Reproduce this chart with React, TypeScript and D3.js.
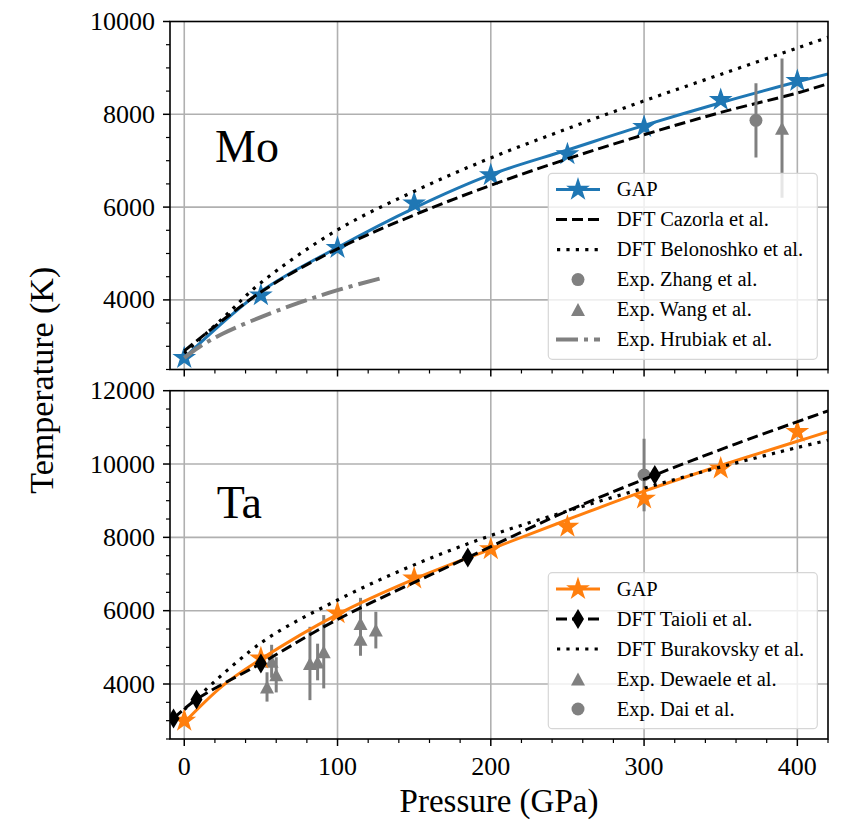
import React from "react";
import * as d3 from "d3";

// ---- values ----
const pressureTicks = [0, 100, 200, 300, 400];
const moTempTicks = [4000, 6000, 8000, 10000];
const taTempTicks = [4000, 6000, 8000, 10000, 12000];

// Mo
const moGapP = [0, 50, 100, 150, 200, 250, 300, 350, 400];
const moGapT = [2750, 4100, 5120, 6080, 6690, 7140, 7730, 8310, 8720];
const moGapFitP = [0, 50, 100, 150, 200, 250, 300, 350, 400, 420];
const moGapFitT = [2750, 4180, 5130, 5980, 6700, 7230, 7760, 8250, 8700, 8870];
const moCazorlaP = [0, 50, 100, 150, 200, 250, 300, 350, 400, 420];
const moCazorlaT = [2900, 4170, 5100, 5830, 6470, 7040, 7560, 8040, 8460, 8660];
const moBelonoshkoP = [0, 25, 50, 100, 150, 200, 250, 300, 350, 400, 420];
const moBelonoshkoT = [2850, 3600, 4370, 5510, 6340, 7060, 7690, 8290, 8860, 9430, 9660];
const moZhangP = [373];
const moZhangT = [7870];
const moZhangErr = [800];
const moWangP = [390];
const moWangT = [7700];
const moWangErr = [1500];
const moHrubiakP = [0, 10, 25, 50, 75, 100, 131];
const moHrubiakT = [2750, 2990, 3270, 3630, 3940, 4210, 4490];

// Ta
const taGapP = [0, 50, 100, 150, 200, 250, 300, 350, 400];
const taGapT = [3000, 4700, 5930, 6880, 7680, 8290, 9060, 9880, 10880];
const taGapFitP = [0, 25, 50, 100, 150, 200, 250, 300, 350, 400, 420];
const taGapFitT = [2950, 3950, 4680, 5900, 6860, 7680, 8480, 9260, 9960, 10620, 10880];
const taTaioliP = [-7, 8, 50, 185, 307];
const taTaioliT = [3060, 3580, 4560, 7450, 9700];
const taTaioliFitP = [-7, 8, 50, 100, 185, 250, 307, 360, 420];
const taTaioliFitT = [3060, 3580, 4560, 5760, 7450, 8720, 9700, 10550, 11450];
const taBurakovskyP = [0, 50, 100, 150, 200, 250, 300, 350, 400, 420];
const taBurakovskyT = [3300, 5120, 6290, 7250, 8050, 8720, 9340, 9920, 10450, 10650];
const taDewaeleP = [54, 57, 60, 82, 87, 91, 115, 115, 125];
const taDewaeleT = [3920, 4620, 4250, 4560, 4600, 4880, 5650, 5220, 5470];
const taDewaeleErr = [400, 450, 480, 1000, 500, 1000, 700, 450, 500];
const taDaiP = [300];
const taDaiT = [9700];
const taDaiErr = [990];

const moLegend = ["GAP", "DFT Cazorla et al.", "DFT Belonoshko et al.", "Exp. Zhang et al.", "Exp. Wang et al.", "Exp. Hrubiak et al."];
const taLegend = ["GAP", "DFT Taioli et al.", "DFT Burakovsky et al.", "Exp. Dewaele et al.", "Exp. Dai et al."];

const FONT = "'Liberation Serif', 'Times New Roman', serif";
const BLUE = "#1f77b4";
const ORANGE = "#ff7f0e";
const GREY = "#808080";
const GRID = "#b0b0b0";

const L = 170, R = 828;
const x = d3.scaleLinear().domain([-9.3, 420]).range([L, R]);
const yMo = d3.scaleLinear().domain([2500, 10000]).range([369.5, 21.5]);
const yTa = d3.scaleLinear().domain([2500, 12000]).range([739, 390.7]);

const DASH = "11,5";
const DOT = "3.2,6.2";
const DASHDOT = "22,6,4,6";

const zip = (a: number[], b: number[]) => a.map((v, i) => [v, b[i]] as [number, number]);

const starPath = (r: number) => d3.symbol().type(d3.symbolStar).size((r * r) / 0.8908130915292852)() as string;
const diamondPath = (w: number, h: number) => `M0,${-h / 2}L${w / 2},0L0,${h / 2}L${-w / 2},0Z`;
const trianglePath = (w: number, h: number) => `M0,${-h / 2}L${w / 2},${h / 2}L${-w / 2},${h / 2}Z`;

function linePath(y: d3.ScaleLinear<number, number>, P: number[], T: number[]) {
  return d3.line<[number, number]>()
    .x(d => x(d[0]))
    .y(d => y(d[1]))
    .curve(d3.curveCatmullRom.alpha(0.5))(zip(P, T)) as string;
}

function Axes({ y, ticks, showXLabels }: { y: d3.ScaleLinear<number, number>; ticks: number[]; showXLabels: boolean }) {
  const [lo, hi] = y.domain();
  const top = y(hi), bot = y(lo);
  const minorX = d3.range(0, 421, 20).filter(v => v % 100 !== 0);
  const minorY = d3.range(Math.ceil(lo / 500) * 500, hi + 1, 500).filter(v => v % 2000 !== 0);
  return (
    <g>
      <g fill="none" stroke="#000" strokeWidth={1.5}>
        {pressureTicks.map(p => <line key={"xt" + p} x1={x(p)} x2={x(p)} y1={bot} y2={bot + 7} />)}
        {minorX.map(p => <line key={"xm" + p} x1={x(p)} x2={x(p)} y1={bot} y2={bot + 4} strokeWidth={1.2} />)}
        {ticks.map(t => <line key={"yt" + t} x1={L - 7} x2={L} y1={y(t)} y2={y(t)} />)}
        {minorY.map(t => <line key={"ym" + t} x1={L - 4} x2={L} y1={y(t)} y2={y(t)} strokeWidth={1.2} />)}
        <rect x={L} y={top} width={R - L} height={bot - top} strokeWidth={1.6} />
      </g>
      <g fontFamily={FONT} fontSize={26} fill="#000">
        {ticks.map(t => (
          <text key={"yl" + t} x={L - 15} y={y(t)} textAnchor="end" dominantBaseline="central">{t}</text>
        ))}
        {showXLabels && pressureTicks.map(p => (
          <text key={"xl" + p} x={x(p)} y={bot + 36} textAnchor="middle">{p}</text>
        ))}
      </g>
    </g>
  );
}

function Grid({ y, ticks }: { y: d3.ScaleLinear<number, number>; ticks: number[] }) {
  const [lo, hi] = y.domain();
  return (
    <g stroke={GRID} strokeWidth={1.6}>
      {pressureTicks.map(p => <line key={"gx" + p} x1={x(p)} x2={x(p)} y1={y(hi)} y2={y(lo)} />)}
      {ticks.filter(t => t < hi).map(t => <line key={"gy" + t} x1={L} x2={R} y1={y(t)} y2={y(t)} />)}
    </g>
  );
}

function ErrPoints({ y, P, T, E, shape }: { y: d3.ScaleLinear<number, number>; P: number[]; T: number[]; E: number[]; shape: string }) {
  return (
    <g>
      {P.map((p, i) => (
        <line key={"e" + i} x1={x(p)} x2={x(p)} y1={y(T[i] - E[i])} y2={y(T[i] + E[i])} stroke={GREY} strokeWidth={3} />
      ))}
      {P.map((p, i) => shape === "circle"
        ? <circle key={"m" + i} cx={x(p)} cy={y(T[i])} r={6.5} fill={GREY} />
        : <path key={"m" + i} d={trianglePath(14, 13)} transform={`translate(${x(p)},${y(T[i])})`} fill={GREY} />)}
    </g>
  );
}

function Stars({ y, P, T, color }: { y: d3.ScaleLinear<number, number>; P: number[]; T: number[]; color: string }) {
  return (
    <g fill={color}>
      {P.map((p, i) => <path key={i} d={starPath(12.5)} transform={`translate(${x(p)},${y(T[i])})`} />)}
    </g>
  );
}

type Handle = "gap" | "dash" | "dot" | "circle" | "triangle" | "dashdot" | "dashdiamond";

function Legend({ top, labels, handles, color }: { top: number; labels: string[]; handles: Handle[]; color: string }) {
  const x0 = 548.3, w = 269;
  const h = labels.length * 30 + 6;
  const hx1 = 556, hx2 = 600, hm = 578;
  return (
    <g>
      <rect x={x0} y={top} width={w} height={h} rx={4} fill="#fff" fillOpacity={0.8} stroke="#d6d6d6" strokeWidth={1.2} />
      {labels.map((lab, i) => {
        const cy = top + 16.3 + i * 30;
        const hd = handles[i];
        return (
          <g key={lab}>
            {hd === "gap" && <g>
              <line x1={hx1} x2={hx2} y1={cy} y2={cy} stroke={color} strokeWidth={3} />
              <path d={starPath(12.5)} transform={`translate(${hm},${cy})`} fill={color} />
            </g>}
            {hd === "dash" && <line x1={hx1} x2={hx2} y1={cy} y2={cy} stroke="#000" strokeWidth={3} strokeDasharray={DASH} />}
            {hd === "dashdiamond" && <g>
              <line x1={hx1} x2={hx2} y1={cy} y2={cy} stroke="#000" strokeWidth={3} strokeDasharray={DASH} />
              <path d={diamondPath(12, 20)} transform={`translate(${hm},${cy})`} fill="#000" />
            </g>}
            {hd === "dot" && <line x1={hx1 + 1} x2={hx2} y1={cy} y2={cy} stroke="#000" strokeWidth={3.2} strokeDasharray={DOT} />}
            {hd === "dashdot" && <line x1={hx1} x2={hx2} y1={cy} y2={cy} stroke={GREY} strokeWidth={4} strokeDasharray={DASHDOT} />}
            {hd === "circle" && <circle cx={hm} cy={cy} r={6.5} fill={GREY} />}
            {hd === "triangle" && <path d={trianglePath(14, 13)} transform={`translate(${hm},${cy})`} fill={GREY} />}
            <text x={616.7} y={cy + 6.5} fontFamily={FONT} fontSize={20.5} fill="#000">{lab}</text>
          </g>
        );
      })}
    </g>
  );
}

export default function App() {
  const moTop = yMo(10000), moBot = yMo(2500);
  const taTop = yTa(12000), taBot = yTa(2500);
  return (
    <svg width={845} height={829} style={{ position: "absolute", left: 0, top: 0, background: "#fff" }}>
      <defs>
        <clipPath id="clipMo"><rect x={L} y={moTop} width={R - L} height={moBot - moTop} /></clipPath>
        <clipPath id="clipTa"><rect x={L} y={taTop} width={R - L} height={taBot - taTop} /></clipPath>
      </defs>

      {/* Mo panel */}
      <Grid y={yMo} ticks={moTempTicks} />
      <g clipPath="url(#clipMo)">
        <path d={linePath(yMo, moGapFitP, moGapFitT)} fill="none" stroke={BLUE} strokeWidth={3} />
        <Stars y={yMo} P={moGapP} T={moGapT} color={BLUE} />
        <path d={linePath(yMo, moCazorlaP, moCazorlaT)} fill="none" stroke="#000" strokeWidth={3} strokeDasharray={DASH} />
        <path d={linePath(yMo, moBelonoshkoP, moBelonoshkoT)} fill="none" stroke="#000" strokeWidth={3.2} strokeDasharray={DOT} />
        <ErrPoints y={yMo} P={moZhangP} T={moZhangT} E={moZhangErr} shape="circle" />
        <ErrPoints y={yMo} P={moWangP} T={moWangT} E={moWangErr} shape="triangle" />
        <path d={linePath(yMo, moHrubiakP, moHrubiakT)} fill="none" stroke={GREY} strokeWidth={4} strokeDasharray={DASHDOT} />
      </g>
      <Axes y={yMo} ticks={moTempTicks} showXLabels={false} />
      <text x={215} y={161.7} fontFamily={FONT} fontSize={46}>Mo</text>
      <Legend top={173.3} labels={moLegend} handles={["gap", "dash", "dot", "circle", "triangle", "dashdot"]} color={BLUE} />

      {/* Ta panel */}
      <Grid y={yTa} ticks={taTempTicks} />
      <g clipPath="url(#clipTa)">
        <ErrPoints y={yTa} P={taDewaeleP} T={taDewaeleT} E={taDewaeleErr} shape="triangle" />
        <ErrPoints y={yTa} P={taDaiP} T={taDaiT} E={taDaiErr} shape="circle" />
        <path d={linePath(yTa, taGapFitP, taGapFitT)} fill="none" stroke={ORANGE} strokeWidth={3} />
        <Stars y={yTa} P={taGapP} T={taGapT} color={ORANGE} />
        <path d={linePath(yTa, taTaioliFitP, taTaioliFitT)} fill="none" stroke="#000" strokeWidth={3} strokeDasharray={DASH} />
        <g fill="#000">
          {taTaioliP.map((p, i) => (
            <path key={i} d={diamondPath(12, 20)} transform={`translate(${x(p)},${yTa(taTaioliT[i])})`} />
          ))}
        </g>
        <path d={linePath(yTa, taBurakovskyP, taBurakovskyT)} fill="none" stroke="#000" strokeWidth={3.2} strokeDasharray={DOT} />
      </g>
      <Axes y={yTa} ticks={taTempTicks} showXLabels={true} />
      <text x={216.7} y={518.3} fontFamily={FONT} fontSize={46}>Ta</text>
      <Legend top={572.7} labels={taLegend} handles={["gap", "dashdiamond", "dot", "triangle", "circle"]} color={ORANGE} />

      {/* axis titles */}
      <text x={(L + R) / 2} y={812} textAnchor="middle" fontFamily={FONT} fontSize={33}>Pressure (GPa)</text>
      <text transform={`translate(53,${(moTop + taBot) / 2}) rotate(-90)`} textAnchor="middle" fontFamily={FONT} fontSize={34}>Temperature (K)</text>
    </svg>
  );
}
